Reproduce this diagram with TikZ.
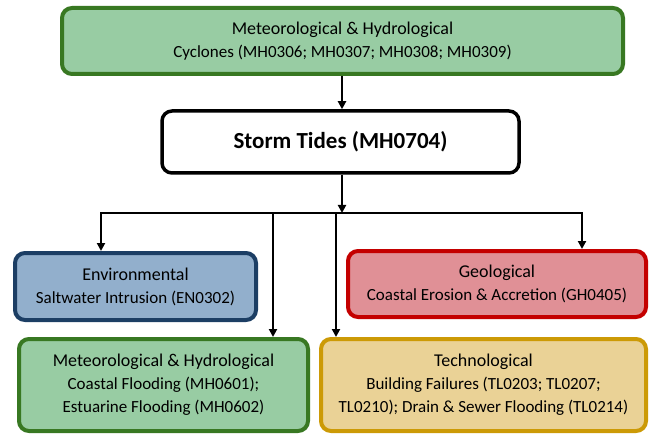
\documentclass[tikz,border=0pt]{standalone}
\usepackage{fontspec}
\setmainfont{Carlito}
\usetikzlibrary{arrows.meta}
\definecolor{gfill}{RGB}{152,204,163}
\definecolor{gline}{RGB}{56,120,34}
\definecolor{bfill}{RGB}{146,175,204}
\definecolor{bline}{RGB}{28,62,100}
\definecolor{rfill}{RGB}{224,144,150}
\definecolor{rline}{RGB}{196,0,0}
\definecolor{yfill}{RGB}{234,210,150}
\definecolor{yline}{RGB}{204,154,6}
\newcommand{\ttl}{\fontsize{18}{23}\selectfont}
\newcommand{\sbt}{\fontsize{17}{23}\selectfont}
\tikzset{
  hbox/.style={draw, line width=4pt, rounded corners=10pt, align=center, inner sep=0pt, font=\ttl},
  conn/.style={line width=2pt, -{Triangle[length=8pt,width=8pt]}},
  plain/.style={line width=2pt}
}
\begin{document}
\begin{tikzpicture}[x=1pt,y=-1pt]
\useasboundingbox (0,0) rectangle (663,438);
\node[hbox, fill=gfill, draw=gline, minimum width=561pt, minimum height=66pt] (top) at (342.5,41)
  {Meteorological \& Hydrological\\{\sbt Cyclones (MH0306; MH0307; MH0308; MH0309)}};
\node[hbox, fill=white, draw=black, line width=3.5pt, minimum width=357pt, minimum height=62pt, font=\fontsize{23}{28}\selectfont\bfseries] (storm) at (340.5,142)
  {Storm Tides (MH0704)};
\node[hbox, fill=bfill, draw=bline, minimum width=241pt, minimum height=67pt] (env) at (135.5,286.5)
  {Environmental\\{\sbt Saltwater Intrusion (EN0302)}};
\node[hbox, fill=rfill, draw=rline, minimum width=298pt, minimum height=66pt] (geo) at (497,284)
  {Geological\\{\sbt Coastal Erosion \& Accretion (GH0405)}};
\node[hbox, fill=gfill, draw=gline, minimum width=289pt, minimum height=92pt] (mh) at (163.5,385)
  {Meteorological \& Hydrological\\{\sbt Coastal Flooding (MH0601);}\\{\sbt Estuarine Flooding (MH0602)}};
\node[hbox, fill=yfill, draw=yline, minimum width=325pt, minimum height=92pt] (tech) at (483.5,385)
  {Technological\\{\sbt Building Failures (TL0203; TL0207;}\\{\sbt TL0210); Drain \& Sewer Flooding (TL0214)}};
\coordinate (bL) at (101,213);
\coordinate (bR) at (582,213);
\coordinate (bM) at (342,213);
\coordinate (b2) at (273,213);
\coordinate (b3) at (336,213);
\draw[conn] (top.south -| bM) -- (storm.north -| bM);
\draw[conn] (storm.south -| bM) -- (bM);
\draw[plain] ([xshift=-1pt]bL) -- ([xshift=1pt]bR);
\draw[conn] (bL) -- (bL |- env.north);
\draw[conn] (bR) -- (bR |- geo.north);
\draw[conn] (b2) -- (b2 |- mh.north);
\draw[conn] (b3) -- (b3 |- tech.north);
\end{tikzpicture}
\end{document}
